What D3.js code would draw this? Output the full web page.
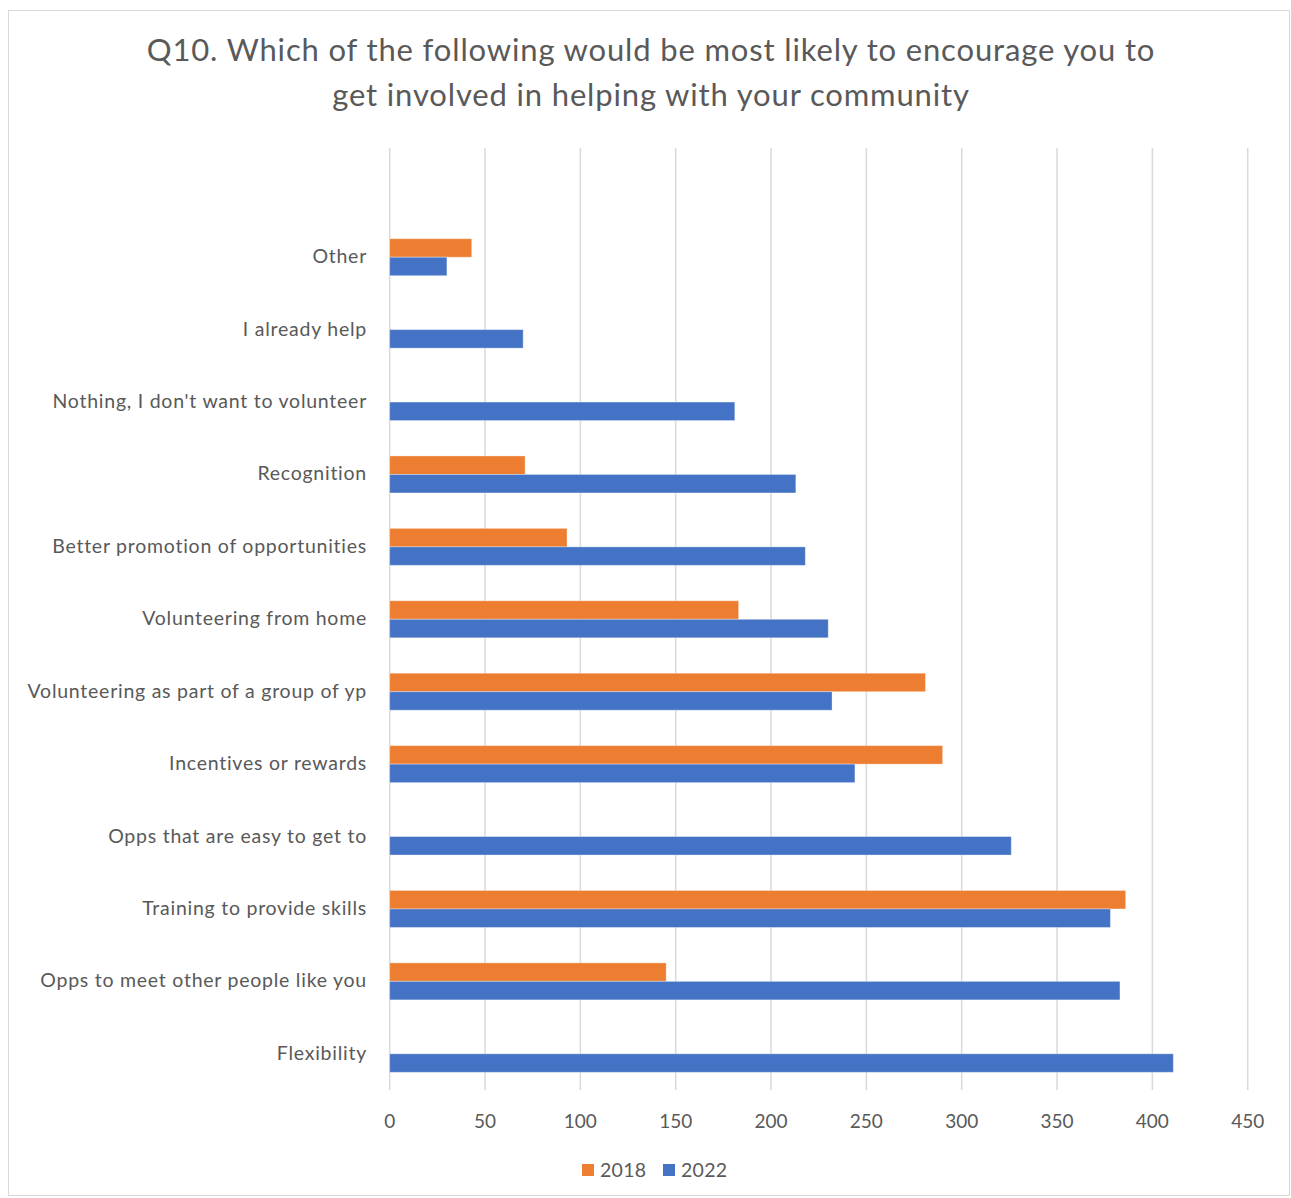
<!DOCTYPE html>
<html><head><meta charset="utf-8">
<script src="https://cdn.jsdelivr.net/npm/d3@7"></script>
<style>body{margin:0;background:#fff;} text{font-family:Lato,"Open Sans",sans-serif;}</style>
</head><body><svg id="c" width="1291" height="1198"></svg>
<script>
const categories = ["Other","I already help","Nothing, I don't want to volunteer","Recognition","Better promotion of opportunities","Volunteering from home","Volunteering as part of a group of yp","Incentives or rewards","Opps that are easy to get to","Training to provide skills","Opps to meet other people like you","Flexibility"];
const values2018 = [43, 0, 0, 71, 93, 183, 281, 290, 0, 386, 145, 0];
const values2022 = [30, 70, 181, 213, 218, 230, 232, 244, 326, 378, 383, 411];
const seriesNames = ["2018","2022"];
const colors = ["#ED7D31","#4472C4"];
const xTicks = [0,50,100,150,200,250,300,350,400,450];
const titleLines = ["Q10. Which of the following would be most likely to encourage you to","get involved in helping with your community"];

const svg = d3.select("#c");
svg.append("rect").attr("x",8.5).attr("y",10.5).attr("width",1281).attr("height",1185)
  .attr("fill","#fff").attr("stroke","#d9d9d9").attr("stroke-width",1);

const x = d3.scaleLinear().domain([0,450]).range([389.7,1247.7]);
const y = d3.scaleBand().domain(categories).range([221,1090]).paddingInner(0).paddingOuter(0);
const plotTop = 148, plotBottom = 1090;

// gridlines
svg.append("g").selectAll("line").data(xTicks).join("line")
  .attr("x1",d=>x(d)).attr("x2",d=>x(d)).attr("y1",plotTop).attr("y2",plotBottom)
  .attr("stroke","#d9d9d9").attr("stroke-width",1.5);

// title
svg.append("g").selectAll("text").data(titleLines).join("text")
  .attr("x",651).attr("y",(d,i)=>61+i*45).attr("text-anchor","middle")
  .attr("font-size",31).attr("letter-spacing",0.85).attr("fill","#595959").text(d=>d);

const barH = 18.5;
const data = categories.map((c,i)=>({c, v:[values2018[i],values2022[i]]}));
const g = svg.append("g");
data.forEach(d=>{
  const cy = y(d.c)+y.bandwidth()/2;
  d.v.forEach((v,j)=>{
    if(v<=0) return;
    g.append("rect").attr("x",x(0)).attr("y",cy-barH+j*barH).attr("width",x(v)-x(0)).attr("height",barH)
      .attr("fill",colors[j]).attr("stroke","#fff").attr("stroke-opacity",0.35).attr("stroke-width",1);
  });
});

// category labels
svg.append("g").selectAll("text").data(categories).join("text")
  .attr("x",367).attr("y",d=>y(d)+y.bandwidth()/2+6).attr("text-anchor","end")
  .attr("font-size",19.5).attr("letter-spacing",0.75).attr("fill","#595959").text(d=>d);

// x axis tick labels
svg.append("g").selectAll("text").data(xTicks).join("text")
  .attr("x",d=>x(d)).attr("y",1128).attr("text-anchor","middle")
  .attr("font-size",19).attr("fill","#595959").text(d=>d);

// legend
const leg = svg.append("g");
const legX = [582, 663];
seriesNames.forEach((s,i)=>{
  leg.append("rect").attr("x",legX[i]).attr("y",1164).attr("width",12).attr("height",12).attr("fill",colors[i]);
  leg.append("text").attr("x",legX[i]+18).attr("y",1177).attr("font-size",19.5).attr("letter-spacing",0.3).attr("fill","#595959").text(s);
});
</script></body></html>
